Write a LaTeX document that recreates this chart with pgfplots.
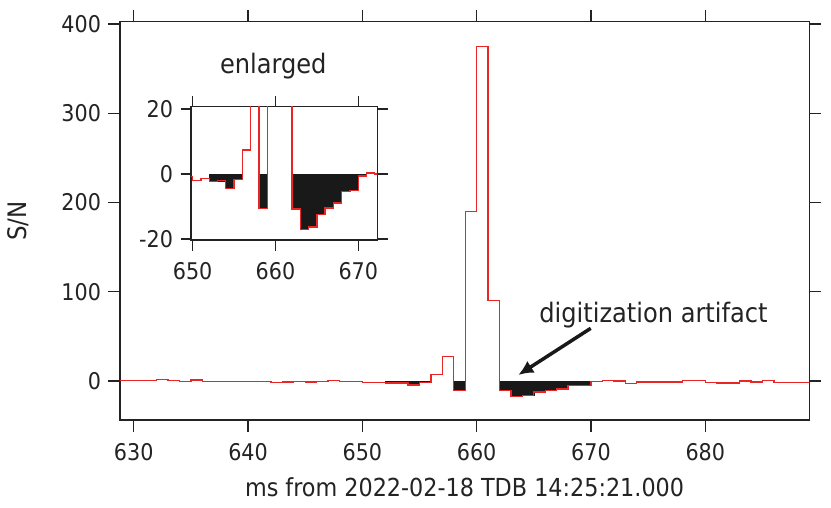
\documentclass[border=0pt]{standalone}
\usepackage{fontspec}
\setmainfont{DejaVu Sans Condensed}
\usepackage{pgfplots}
\pgfplotsset{compat=1.18}
\usepackage{pgfplotstable}
\usetikzlibrary{arrows.meta}

\definecolor{sig}{RGB}{232,38,38}
\definecolor{frm}{RGB}{35,35,35}
\definecolor{blk}{RGB}{25,25,25}

\pgfplotstableread{
x y
628 0.8
629 0.8
630 0.3
631 0.6
632 1.3
633 0.8
634 -0.8
635 1.0
636 -0.3
637 -0.2
638 -0.2
639 -0.9
640 -0.5
641 -0.2
642 -2.0
643 -1.0
644 -0.5
645 -1.0
646 -0.3
647 0.2
648 -0.3
649 -0.8
650 -1.9
651 -1.3
652 -2.3
653 -2.1
654 -4.5
655 -1.6
656 7.4
657 27.3
658 -10.6
659 190
660 375
661 90
662 -10.8
663 -17.1
664 -16.3
665 -12.4
666 -10.5
667 -8.9
668 -5.3
669 -5.0
670 -0.6
671 0.3
672 0.0
673 -2.8
674 -1.1
675 -1.0
676 -1.0
677 -1.0
678 0.5
679 0.8
680 -1.8
681 -2.4
682 -2.4
683 0.0
684 -1.0
685 0.9
686 -1.8
687 -1.6
688 -1.3
689 -1.3
690 -1.3
}\sn

\pgfplotstableread{
x y
652 0
652 -2.3
653 -2.1
654 -4.5
655 -1.6
656 -1.6
656 0
}\fa

\pgfplotstableread{
x y
658 0
658 -10.6
659 -10.6
659 0
}\fb

\pgfplotstableread{
x y
662 0
662 -10.8
663 -17.1
664 -16.3
665 -12.4
666 -10.5
667 -8.9
668 -5.3
669 -5.0
670 -0.6
671 -0.6
671 0
}\fc

\pgfplotsset{
  mystyle/.style={
    scale only axis,
    axis line style={frm, line width=1.2pt},
    tick style={frm, line width=1.2pt},
    tick align=outside,
    major tick length=11.5pt,
    /pgf/number format/assume math mode=true,
    /pgf/number format/1000 sep={},
    tick label style={font=\fontsize{23}{27}\selectfont, text=frm},
    xticklabel style={yshift=-8pt},
    yticklabel style={xshift=-4pt},
    minor tick num=0,
  },
  sigline/.style={const plot, sig, line width=1.3pt},
  artfill/.style={const plot, fill=blk, draw=blk, line width=0.6pt},
}

\begin{document}
\begin{tikzpicture}
\begin{axis}[mystyle, name=main,
  width=689.3pt, height=398.3pt,
  xmin=628.8, xmax=689.1, ymin=-43.7, ymax=402.6,
  xtick={630,640,...,680}, ytick={0,100,...,400},
  xlabel={ms from 2022-02-18 TDB 14:25:21.000},
  ylabel={S/N},
  xlabel style={at={(axis description cs:0.5,-0.1926)}, anchor=base, font=\fontsize{24.8}{28}\selectfont, text=frm},
  ylabel style={at={(axis description cs:-0.147,0.5)}, anchor=center, font=\fontsize{25.5}{28}\selectfont, text=frm},
]
\addplot[artfill] table {\fa};
\addplot[artfill] table {\fb};
\addplot[artfill] table {\fc};
\addplot[sigline] table {\sn};
\node[anchor=base, font=\fontsize{26.8}{30}\selectfont, text=frm] at (rel axis cs:0.2224,0.8705) {enlarged};
\node[anchor=base, font=\fontsize{26.8}{30}\selectfont, text=frm] at (rel axis cs:0.774,0.2443) {digitization artifact};
\draw[blk, line width=3.5pt, -{Latex[length=15pt,width=14pt]}] (rel axis cs:0.6829,0.2302) -- (rel axis cs:0.5778,0.113);
\end{axis}
\begin{axis}[mystyle, name=inset,
  at={(main.south west)}, anchor=south west, xshift=71pt, yshift=180pt,
  width=186.3pt, height=133.3pt,
  xmin=649.8, xmax=672.3, ymin=-20.3, ymax=20.7,
  xtick={650,660,670}, ytick={-20,0,20},
  major tick length=10.5pt,
  axis background/.style={fill=white},
]
\addplot[artfill] table {\fa};
\addplot[artfill] table {\fb};
\addplot[artfill] table {\fc};
\addplot[sigline] table {\sn};
\end{axis}
\path (main.south west) ++(-120pt,-87pt) rectangle ++(831pt,507pt);
\end{tikzpicture}
\end{document}
